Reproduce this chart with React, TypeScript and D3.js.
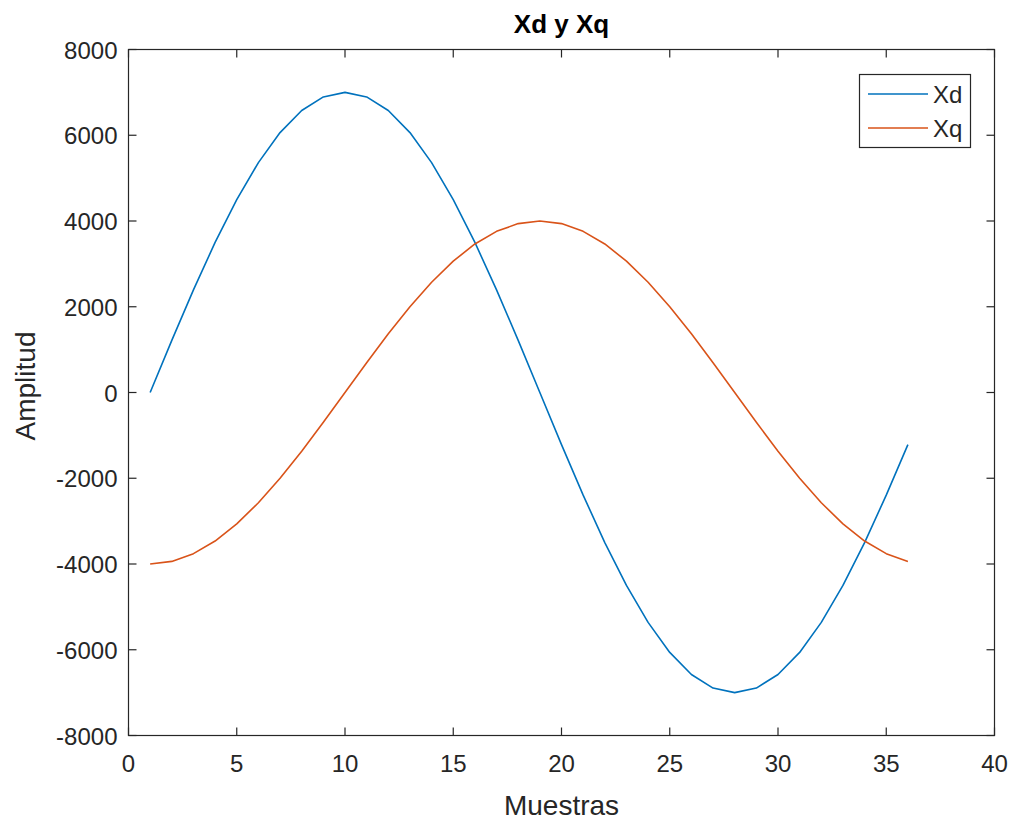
import React from "react";
import * as d3 from "d3";

// Samples 1..36
const muestras: number[] = Array.from({ length: 36 }, (_, i) => i + 1);

const xd: number[] = [
  0, 1216, 2394, 3500, 4500, 5362, 6062, 6578, 6894, 7000, 6894, 6578,
  6062, 5362, 4500, 3500, 2394, 1216, 0, -1216, -2394, -3500, -4500, -5362,
  -6062, -6578, -6894, -7000, -6894, -6578, -6062, -5362, -4500, -3500, -2394, -1216,
];

const xq: number[] = [
  -4000, -3939, -3759, -3464, -3064, -2571, -2000, -1368, -695, 0, 695, 1368,
  2000, 2571, 3064, 3464, 3759, 3939, 4000, 3939, 3759, 3464, 3064, 2571,
  2000, 1368, 695, 0, -695, -1368, -2000, -2571, -3064, -3464, -3759, -3939,
];

const xTicks: number[] = [0, 5, 10, 15, 20, 25, 30, 35, 40];
const yTicks: number[] = [-8000, -6000, -4000, -2000, 0, 2000, 4000, 6000, 8000];

const seriesNames: string[] = ["Xd", "Xq"];
const seriesColors: string[] = ["#0072BD", "#D95319"];

export default function App() {
  const W = 1016;
  const H = 821;
  const left = 128.5;
  const right = 994.5;
  const top = 49.5;
  const bottom = 735.5;

  const x = d3.scaleLinear().domain([0, 40]).range([left, right]);
  const y = d3.scaleLinear().domain([-8000, 8000]).range([bottom, top]);

  const line = d3
    .line<number>()
    .x((_, i) => x(muestras[i]))
    .y((d) => y(d));

  const series = [xd, xq];
  const font = "'Liberation Sans', Arial, Helvetica, sans-serif";
  const axisColor = "#262626";
  const tickLen = 8;
  const tickFont = 24;

  return (
    <svg
      width={W}
      height={H}
      style={{ position: "absolute", left: 0, top: 0, background: "#fff" }}
      fontFamily={font}
    >
      <rect x={0} y={0} width={W} height={H} fill="#fff" />
      {/* plot frame */}
      <rect
        x={left}
        y={top}
        width={right - left}
        height={bottom - top}
        fill="#fff"
        stroke={axisColor}
        strokeWidth={1.2}
      />
      {/* x ticks */}
      {xTicks.map((t) => (
        <g key={"x" + t}>
          <line x1={x(t)} x2={x(t)} y1={bottom} y2={bottom - tickLen} stroke={axisColor} strokeWidth={1.2} />
          <line x1={x(t)} x2={x(t)} y1={top} y2={top + tickLen} stroke={axisColor} strokeWidth={1.2} />
          <text
            x={x(t)}
            y={772}
            textAnchor="middle"
            fontSize={tickFont}
            fill={axisColor}
          >
            {t}
          </text>
        </g>
      ))}
      {/* y ticks */}
      {yTicks.map((t) => (
        <g key={"y" + t}>
          <line x1={left} x2={left + tickLen} y1={y(t)} y2={y(t)} stroke={axisColor} strokeWidth={1.2} />
          <line x1={right} x2={right - tickLen} y1={y(t)} y2={y(t)} stroke={axisColor} strokeWidth={1.2} />
          <text
            x={left - 11}
            y={y(t) + 9}
            textAnchor="end"
            fontSize={tickFont}
            fill={axisColor}
          >
            {t}
          </text>
        </g>
      ))}
      {/* series */}
      {series.map((s, i) => (
        <path
          key={seriesNames[i]}
          d={line(s) || ""}
          fill="none"
          stroke={seriesColors[i]}
          strokeWidth={1.6}
          strokeLinejoin="round"
        />
      ))}
      {/* title and labels */}
      <text
        x={(left + right) / 2}
        y={33}
        textAnchor="middle"
        fontSize={26}
        fontWeight="bold"
        fill="#000"
      >
        Xd y Xq
      </text>
      <text
        x={(left + right) / 2}
        y={815}
        textAnchor="middle"
        fontSize={28}
        fill={axisColor}
      >
        Muestras
      </text>
      <text
        transform={`translate(${35},${386}) rotate(-90)`}
        textAnchor="middle"
        fontSize={28}
        fill={axisColor}
      >
        Amplitud
      </text>
      {/* legend */}
      <g>
        <rect x={859.5} y={74.5} width={111} height={73} fill="#fff" stroke={axisColor} strokeWidth={1.2} />
        {seriesNames.map((n, i) => (
          <g key={"leg" + n}>
            <line
              x1={868}
              x2={928}
              y1={94 + i * 34}
              y2={94 + i * 34}
              stroke={seriesColors[i]}
              strokeWidth={1.6}
            />
            <text x={933} y={94 + i * 34 + 9} fontSize={tickFont} fill={axisColor}>
              {n}
            </text>
          </g>
        ))}
      </g>
    </svg>
  );
}
